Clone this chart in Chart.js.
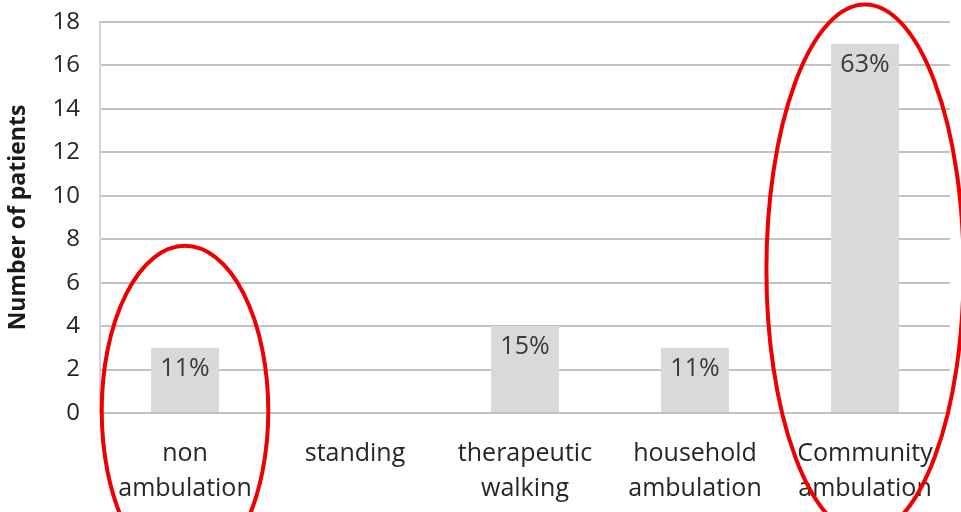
<!DOCTYPE html>
<html>
<head>
<meta charset="utf-8">
<script src="https://cdn.jsdelivr.net/npm/chart.js@4/dist/chart.umd.min.js"></script>
<style>
  html, body { margin: 0; padding: 0; background: #ffffff; }
  #wrap { width: 961px; height: 512px; position: relative; }
</style>
</head>
<body>
<div id="wrap"><canvas id="patients-chart"></canvas></div>
<script>
const categories = [
  ["non", "ambulation"],
  ["standing"],
  ["therapeutic", "walking"],
  ["household", "ambulation"],
  ["Community", "ambulation"],
];
const patients = [3, 0, 4, 3, 17];
const percentLabels = ["11%", "", "15%", "11%", "63%"];
const yTicks = [0, 2, 4, 6, 8, 10, 12, 14, 16, 18];

// red rings around the first and last groups: [category index, centre value, half width (share of a category), half height (values)]
const rings = [
  [0, 0.1, 0.49, 7.6],
  [4, 6.6, 0.58, 12.2],
];

const FONT = "'Open Sans', 'Noto Sans', sans-serif";
const GRID = "#c2c2c2";

// percentage written just under the top of each bar
const barLabels = {
  id: "barLabels",
  afterDatasetsDraw(chart) {
    const ctx = chart.ctx;
    const meta = chart.getDatasetMeta(0);
    ctx.save();
    ctx.font = "25px " + FONT;
    ctx.fillStyle = "#3a3a3a";
    ctx.textAlign = "center";
    ctx.textBaseline = "middle";
    meta.data.forEach((bar, i) => {
      if (!percentLabels[i]) return;
      ctx.fillText(percentLabels[i], bar.x, bar.y + 21);
    });
    ctx.restore();
  },
};

// ellipses drawn on top of everything
const ringPlugin = {
  id: "ringPlugin",
  afterDraw(chart) {
    const ctx = chart.ctx;
    const x = chart.scales.x;
    const y = chart.scales.y;
    const step = x.getPixelForValue(1) - x.getPixelForValue(0);
    const unit = y.getPixelForValue(0) - y.getPixelForValue(1);
    ctx.save();
    ctx.strokeStyle = "#ee0000";
    ctx.lineWidth = 4;
    rings.forEach(([idx, val, w, h]) => {
      ctx.beginPath();
      ctx.ellipse(x.getPixelForValue(idx), y.getPixelForValue(val), w * step, h * unit, 0, 0, Math.PI * 2);
      ctx.stroke();
    });
    ctx.restore();
  },
};

const config = {
  type: "bar",
  data: {
    labels: categories,
    datasets: [
      {
        data: patients,
        backgroundColor: "#d9d9d9",
        borderWidth: 0,
        categoryPercentage: 1,
        barPercentage: 0.4,
      },
    ],
  },
  options: {
    responsive: true,
    maintainAspectRatio: false,
    animation: false,
    layout: {
      padding: { top: 22, right: 11, left: 0, bottom: 0 },
    },
    scales: {
      x: {
        grid: { display: false, drawTicks: false },
        border: { color: GRID, width: 2 },
        ticks: {
          color: "#262626",
          padding: 23,
          maxRotation: 0,
          autoSkip: false,
          font: { family: FONT, size: 25, lineHeight: 1.4 },
        },
        afterFit(scale) {
          scale.height = 99;
        },
      },
      y: {
        min: 0,
        max: 18,
        afterBuildTicks(scale) {
          scale.ticks = yTicks.map((v) => ({ value: v }));
        },
        grid: { color: GRID, lineWidth: 2, drawTicks: false },
        border: { color: "#d4d4d4", width: 2 },
        ticks: {
          color: "#262626",
          padding: 20,
          font: { family: FONT, size: 24 },
        },
        title: {
          display: true,
          text: "Number of patients",
          color: "#1a1a1a",
          padding: { top: 5, bottom: 0 },
          font: { family: FONT, size: 23, weight: "bold" },
        },
        afterFit(scale) {
          scale.width = 100;
          scale.paddingTop = 0;
          scale.paddingBottom = 0;
        },
      },
    },
    plugins: {
      legend: { display: false },
      tooltip: { enabled: false },
    },
  },
  plugins: [barLabels, ringPlugin],
};

const patientsChart = new Chart(document.getElementById("patients-chart"), config);
</script>
</body>
</html>
